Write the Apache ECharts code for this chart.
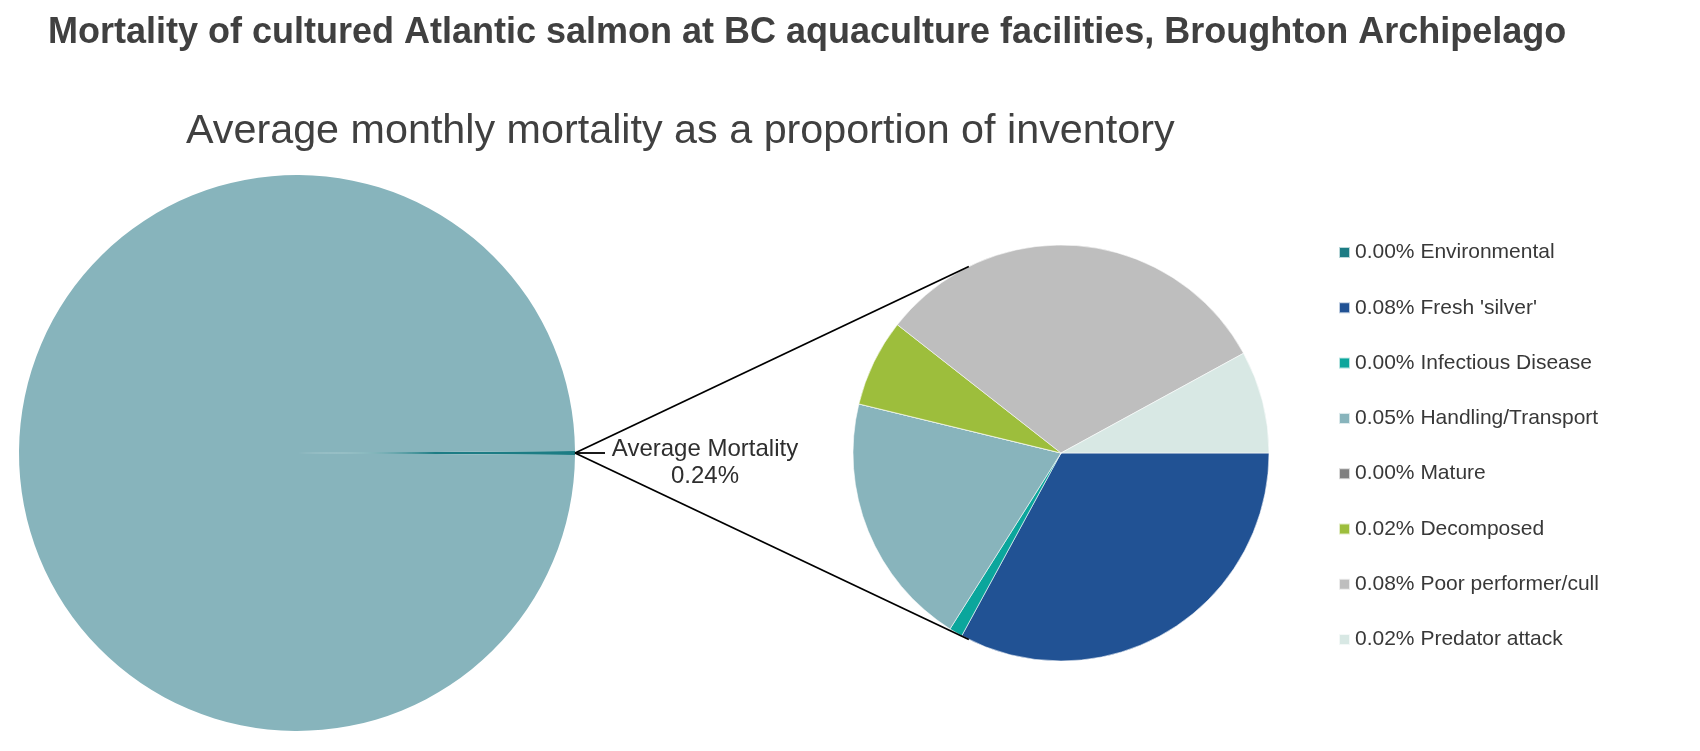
<!DOCTYPE html>
<html>
<head>
<meta charset="utf-8">
<style>
  html, body { margin: 0; padding: 0; background: #ffffff; }
  #chart { width: 1700px; height: 751px; }
</style>
<script src="https://cdn.jsdelivr.net/npm/echarts@6/dist/echarts.min.js"></script>
</head>
<body>
<div id="chart"></div>
<script>
// ---- data ----
const titleText = 'Mortality of cultured Atlantic salmon at BC aquaculture facilities, Broughton Archipelago';
const subtitleText = 'Average monthly mortality as a proportion of inventory';
const categories = ['Environmental', "Fresh 'silver'", 'Infectious Disease', 'Handling/Transport', 'Mature', 'Decomposed', 'Poor performer/cull', 'Predator attack'];
const mortalityPct = [0, 0.079, 0.0025, 0.0476, 0, 0.0163, 0.0755, 0.0191];
const categoryColors = ['#1c7c84', '#215294', '#0ba69c', '#88b4bc', '#808080', '#9dbe3c', '#bebebe', '#d8e8e4'];
const overviewNames = ['Average Mortality', 'Survivors'];
const overviewColors = ['#1c7c84', '#87b4bc'];

const totalMortality = mortalityPct.reduce((a, b) => a + b, 0);
const overviewValues = [totalMortality, 100 - totalMortality];

// ---- layout ----
const font = 'Liberation Sans, Arial, Helvetica, sans-serif';
const bigC = [297, 453], bigR = 278;
const smallC = [1061, 453], smallR = 208;
const connectorDeg = 116.3;

const chart = echarts.init(document.getElementById('chart'), null, { renderer: 'canvas' });

const valueByName = {};
categories.forEach((c, i) => { valueByName[c] = mortalityPct[i]; });

const startPt = [bigC[0] + bigR, bigC[1]];
const a = connectorDeg * Math.PI / 180;
const topPt = [smallC[0] + smallR * Math.cos(a), smallC[1] - smallR * Math.sin(a)];
const botPt = [smallC[0] + smallR * Math.cos(a), smallC[1] + smallR * Math.sin(a)];

const option = {
  animation: false,
  backgroundColor: '#ffffff',
  title: [
    {
      text: titleText, left: 48, top: 15, padding: 0,
      textStyle: { fontFamily: font, fontSize: 36, fontWeight: 'bold', color: '#404040', lineHeight: 36 }
    },
    {
      text: subtitleText, left: 186, top: 111, padding: 0,
      textStyle: { fontFamily: font, fontSize: 41.3, fontWeight: 'normal', color: '#404040', lineHeight: 41 }
    }
  ],
  legend: {
    orient: 'vertical',
    left: 1338,
    top: 242,
    padding: 0,
    itemGap: 34.3,
    itemWidth: 11,
    itemHeight: 11,
    icon: 'rect',
    selectedMode: false,
    data: categories,
    formatter: function (name) { return valueByName[name].toFixed(2) + '% ' + name; },
    textStyle: { fontFamily: font, fontSize: 21, color: '#383838', lineHeight: 21 }
  },
  graphic: [
    { type: 'line', z: 10, shape: { x1: startPt[0], y1: startPt[1], x2: topPt[0], y2: topPt[1] }, style: { stroke: '#000', lineWidth: 1.8 } },
    { type: 'line', z: 10, shape: { x1: startPt[0], y1: startPt[1], x2: botPt[0], y2: botPt[1] }, style: { stroke: '#000', lineWidth: 1.8 } }
  ],
  series: [
    {
      type: 'pie',
      center: bigC,
      radius: bigR,
      startAngle: overviewValues[0] / 100 * 360 / 2,
      clockwise: true,
      avoidLabelOverlap: false,
      emphasis: { disabled: true },
      silent: true,
      itemStyle: { borderWidth: 0 },
      data: overviewNames.map((n, i) => ({
        name: n,
        value: overviewValues[i],
        itemStyle: { color: overviewColors[i] },
        label: { show: i === 0 },
        labelLine: { show: i === 0 }
      })),
      label: {
        position: 'outside',
        formatter: function (p) { return '{a|' + p.name + '}\n{a|' + p.value.toFixed(2) + '%}'; },
        padding: [20, 0, 0, 0],
        rich: {
          a: { fontFamily: font, fontSize: 24, lineHeight: 27, color: '#2e2e2e', width: 190, align: 'center' }
        }
      },
      labelLine: {
        length: 10, length2: 20,
        lineStyle: { color: '#000', width: 1.8 }
      }
    },
    {
      type: 'pie',
      center: smallC,
      radius: smallR,
      startAngle: 0,
      clockwise: true,
      silent: true,
      emphasis: { disabled: true },
      label: { show: false },
      labelLine: { show: false },
      itemStyle: { borderColor: 'rgba(255,255,255,0.7)', borderWidth: 0.8 },
      data: categories.map((c, i) => ({ name: c, value: mortalityPct[i], itemStyle: { color: categoryColors[i] } }))
    }
  ]
};

chart.setOption(option);
</script>
</body>
</html>
